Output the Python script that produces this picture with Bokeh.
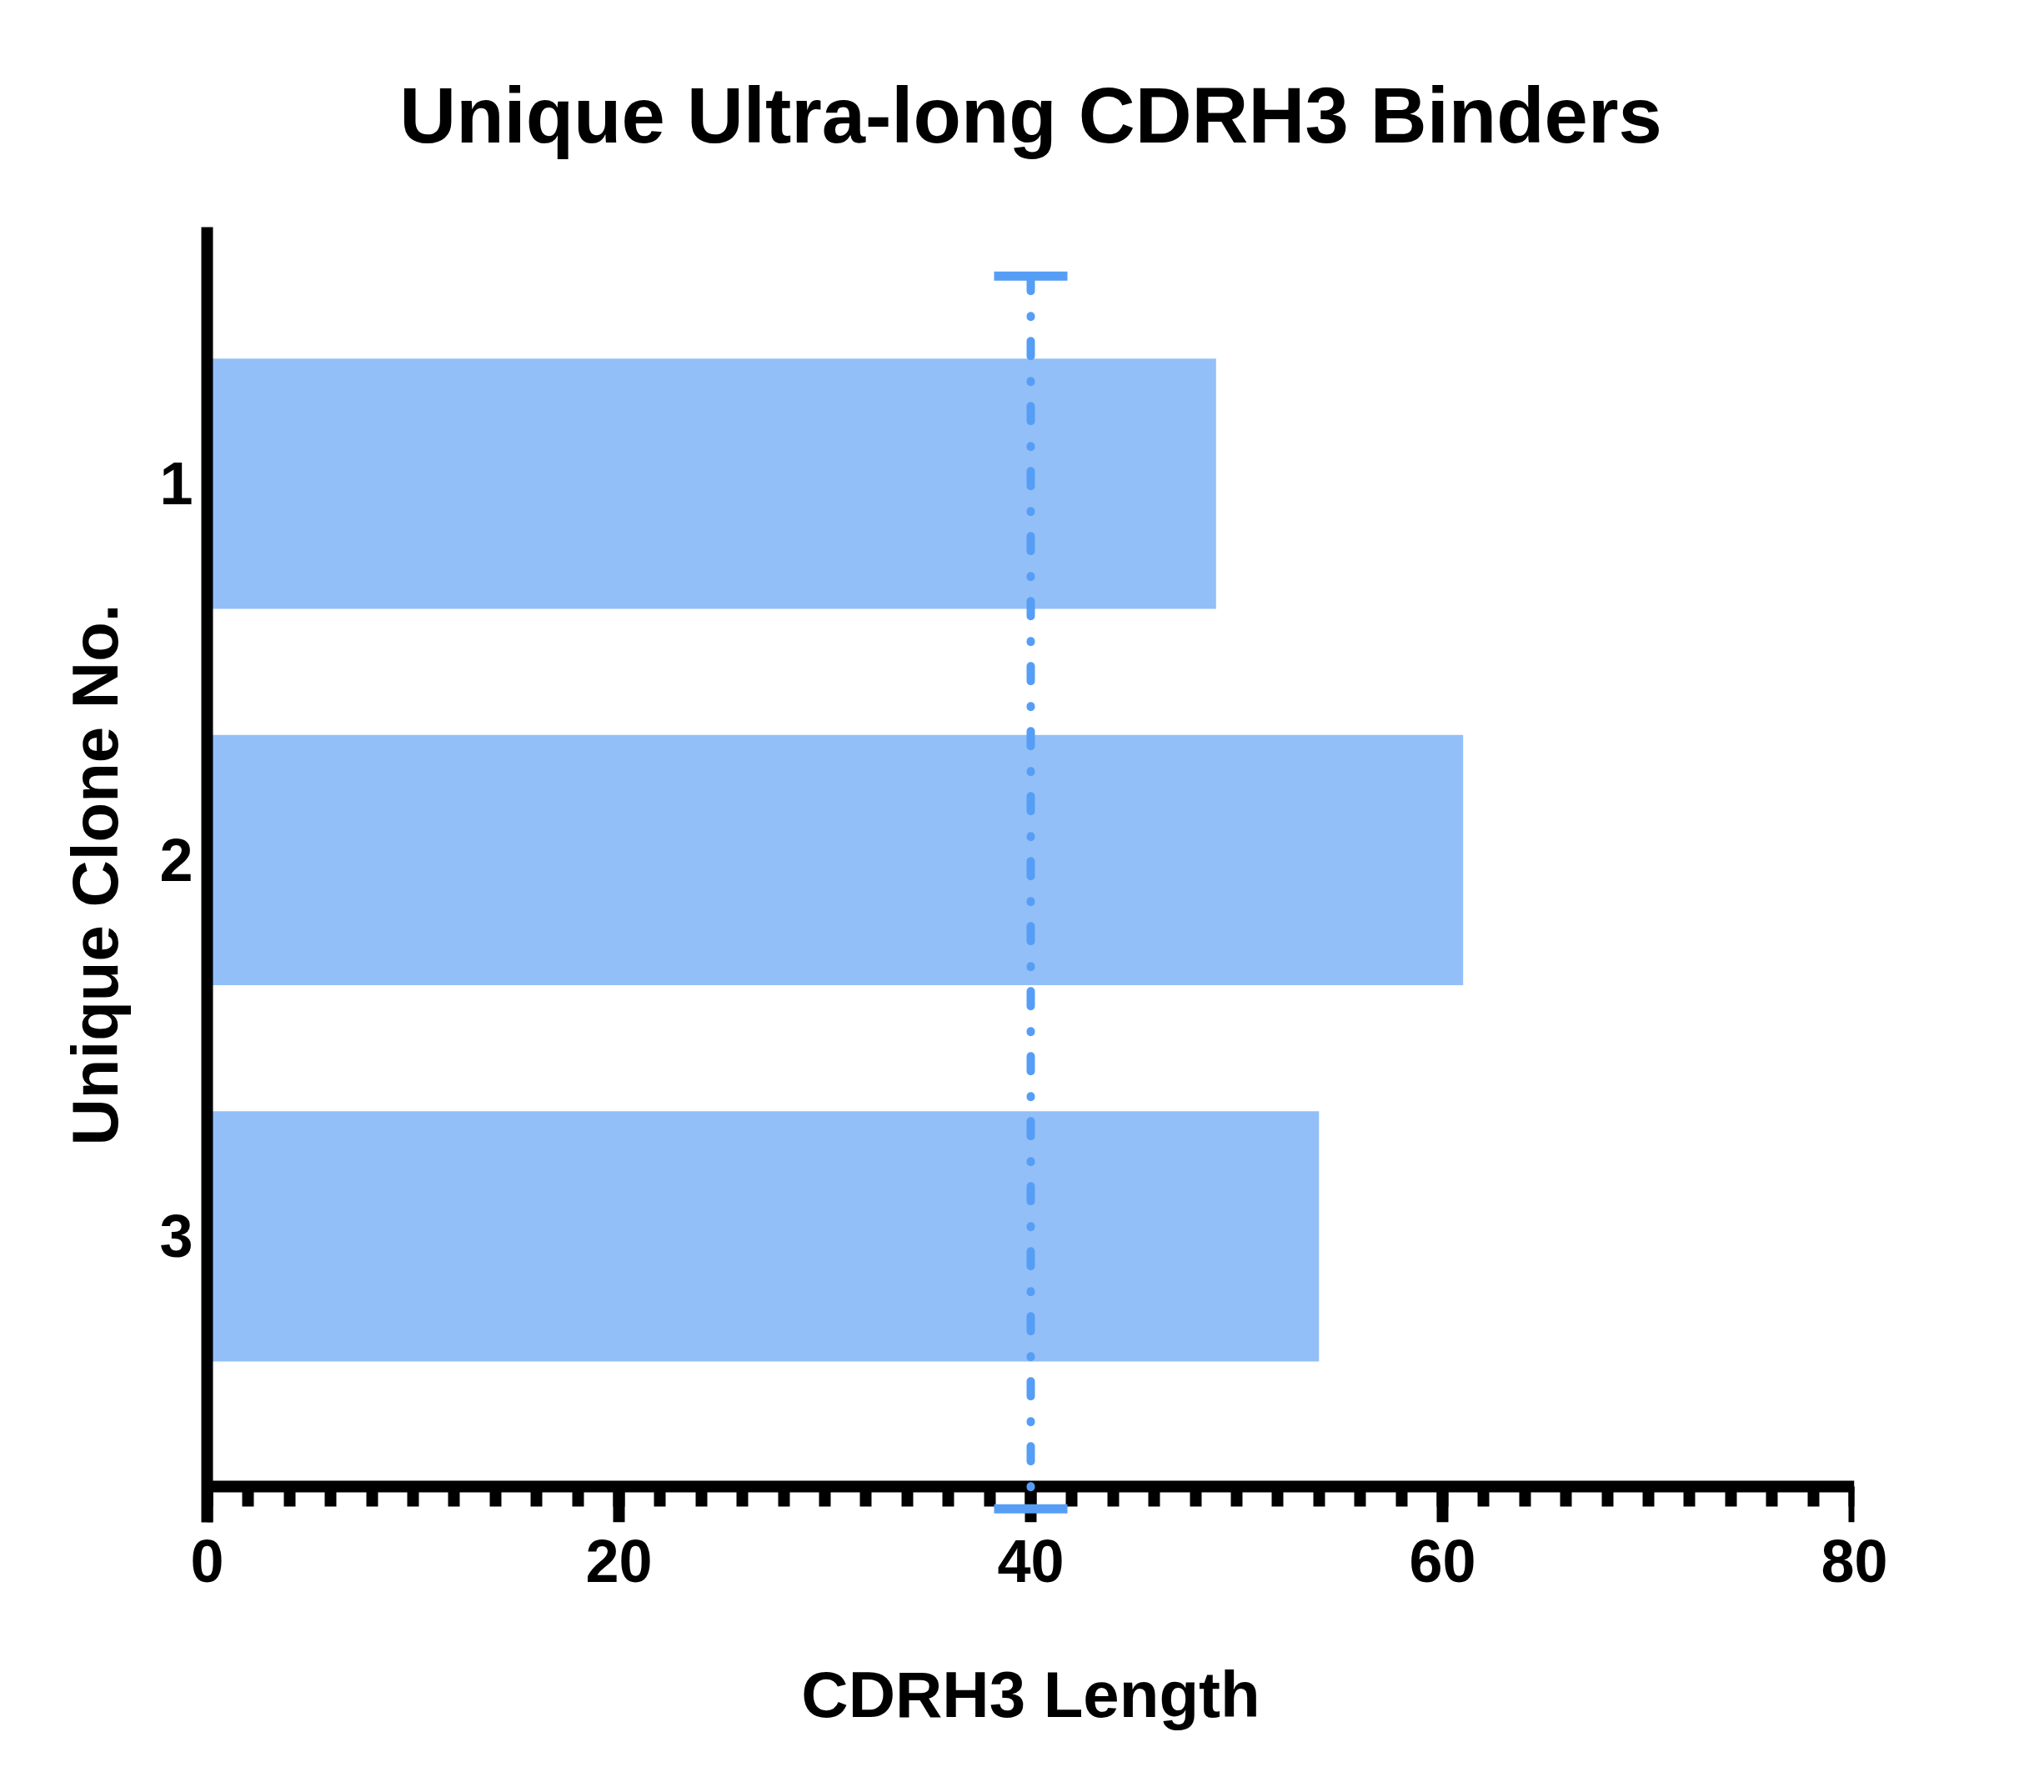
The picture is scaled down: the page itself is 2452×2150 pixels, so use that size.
from bokeh.plotting import figure
from bokeh.models import (Range1d, FixedTicker, SingleIntervalTicker, Whisker,
                          TeeHead, ColumnDataSource, LinearAxis, CustomJSTickFormatter)
from bokeh.embed import file_html
from bokeh.resources import INLINE

# ---- data ----
clones = [1, 2, 3]
clone_labels = ["1", "2", "3"]
cdrh3_length = [49, 61, 54]
threshold = [40]
threshold_lower = [0.448]
threshold_upper = [3.724]

title_text = "Unique Ultra-long CDRH3 Binders"
x_title = "CDRH3 Length"
y_title = "Unique Clone No."

BAR = "#93BFF8"
LINE = "#569EF5"
FONT = "Liberation Sans"

Y_TOP = 0.318
Y_AXIS = 3.6646
Y_BOTTOM = 3.760

p = figure(frame_width=1976, frame_height=1554, output_backend="svg", toolbar_location=None,
           x_range=Range1d(0, 80), y_range=Range1d(Y_BOTTOM, Y_TOP),
           min_border_left=248, min_border_right=212,
           min_border_top=272, min_border_bottom=290)
p.background_fill_color = "white"
p.border_fill_color = "white"
p.outline_line_color = None
p.xgrid.visible = False
p.ygrid.visible = False

src = ColumnDataSource(dict(y=clones, right=cdrh3_length))
p.hbar(y="y", left=0, right="right", height=0.665, source=src,
       fill_color=BAR, line_color=None)

wsrc = ColumnDataSource(dict(base=threshold, lower=threshold_lower, upper=threshold_upper))
w = Whisker(base="base", lower="lower", upper="upper", dimension="height", source=wsrc,
            line_color=LINE, line_width=10, line_cap="round", line_dash="18 30 1 29",
            lower_head=TeeHead(size=88, line_color=LINE, line_width=11),
            upper_head=TeeHead(size=88, line_color=LINE, line_width=11),
            level="overlay")
p.add_layout(w)

# title
p.title.text = title_text
p.title.align = "center"
p.title.text_font = FONT
p.title.text_font_style = "bold"
p.title.text_font_size = "94px"
p.title.text_color = "black"
p.title.standoff = 164

# x axis line + ticks, drawn at a fixed data location so the reference line can cross it
xa = p.xaxis[0]
xa.fixed_location = Y_AXIS
xa.ticker = SingleIntervalTicker(interval=20, num_minor_ticks=10)
xa.formatter = CustomJSTickFormatter(code="return ''")
xa.axis_line_width = 14
xa.axis_line_color = "black"
xa.major_tick_line_width = 14
xa.minor_tick_line_width = 14
xa.major_tick_line_color = "black"
xa.minor_tick_line_color = "black"
xa.major_tick_in = 0
xa.major_tick_out = 43
xa.minor_tick_in = 0
xa.minor_tick_out = 24
xa.major_label_standoff = 0

# x axis tick labels and title
xl = LinearAxis(ticker=SingleIntervalTicker(interval=20))
xl.axis_line_color = None
xl.major_tick_line_color = None
xl.minor_tick_line_color = None
xl.major_tick_in = 0
xl.major_tick_out = 0
xl.minor_tick_in = 0
xl.minor_tick_out = 0
xl.major_label_text_font = FONT
xl.major_label_text_font_style = "bold"
xl.major_label_text_font_size = "72px"
xl.major_label_text_color = "black"
xl.major_label_standoff = 21
xl.axis_label = x_title
xl.axis_label_text_font = FONT
xl.axis_label_text_font_style = "bold"
xl.axis_label_text_font_size = "78px"
xl.axis_label_text_color = "black"
xl.axis_label_standoff = 88
p.add_layout(xl, "below")

# y axis
ya = p.yaxis[0]
ya.ticker = FixedTicker(ticks=clones)
ya.major_label_overrides = {c: l for c, l in zip(clones, clone_labels)}
ya.axis_line_width = 14
ya.axis_line_color = "black"
ya.major_tick_in = 0
ya.major_tick_out = 0
ya.minor_tick_in = 0
ya.minor_tick_out = 0
ya.major_tick_line_color = None
ya.minor_tick_line_color = None
ya.major_label_text_font = FONT
ya.major_label_text_font_style = "bold"
ya.major_label_text_font_size = "72px"
ya.major_label_text_color = "black"
ya.major_label_standoff = 17
ya.axis_label = y_title
ya.axis_label_text_font = FONT
ya.axis_label_text_font_style = "bold"
ya.axis_label_text_font_size = "78px"
ya.axis_label_text_color = "black"
ya.axis_label_standoff = 30

open("out.html", "w").write(file_html(p, INLINE))
